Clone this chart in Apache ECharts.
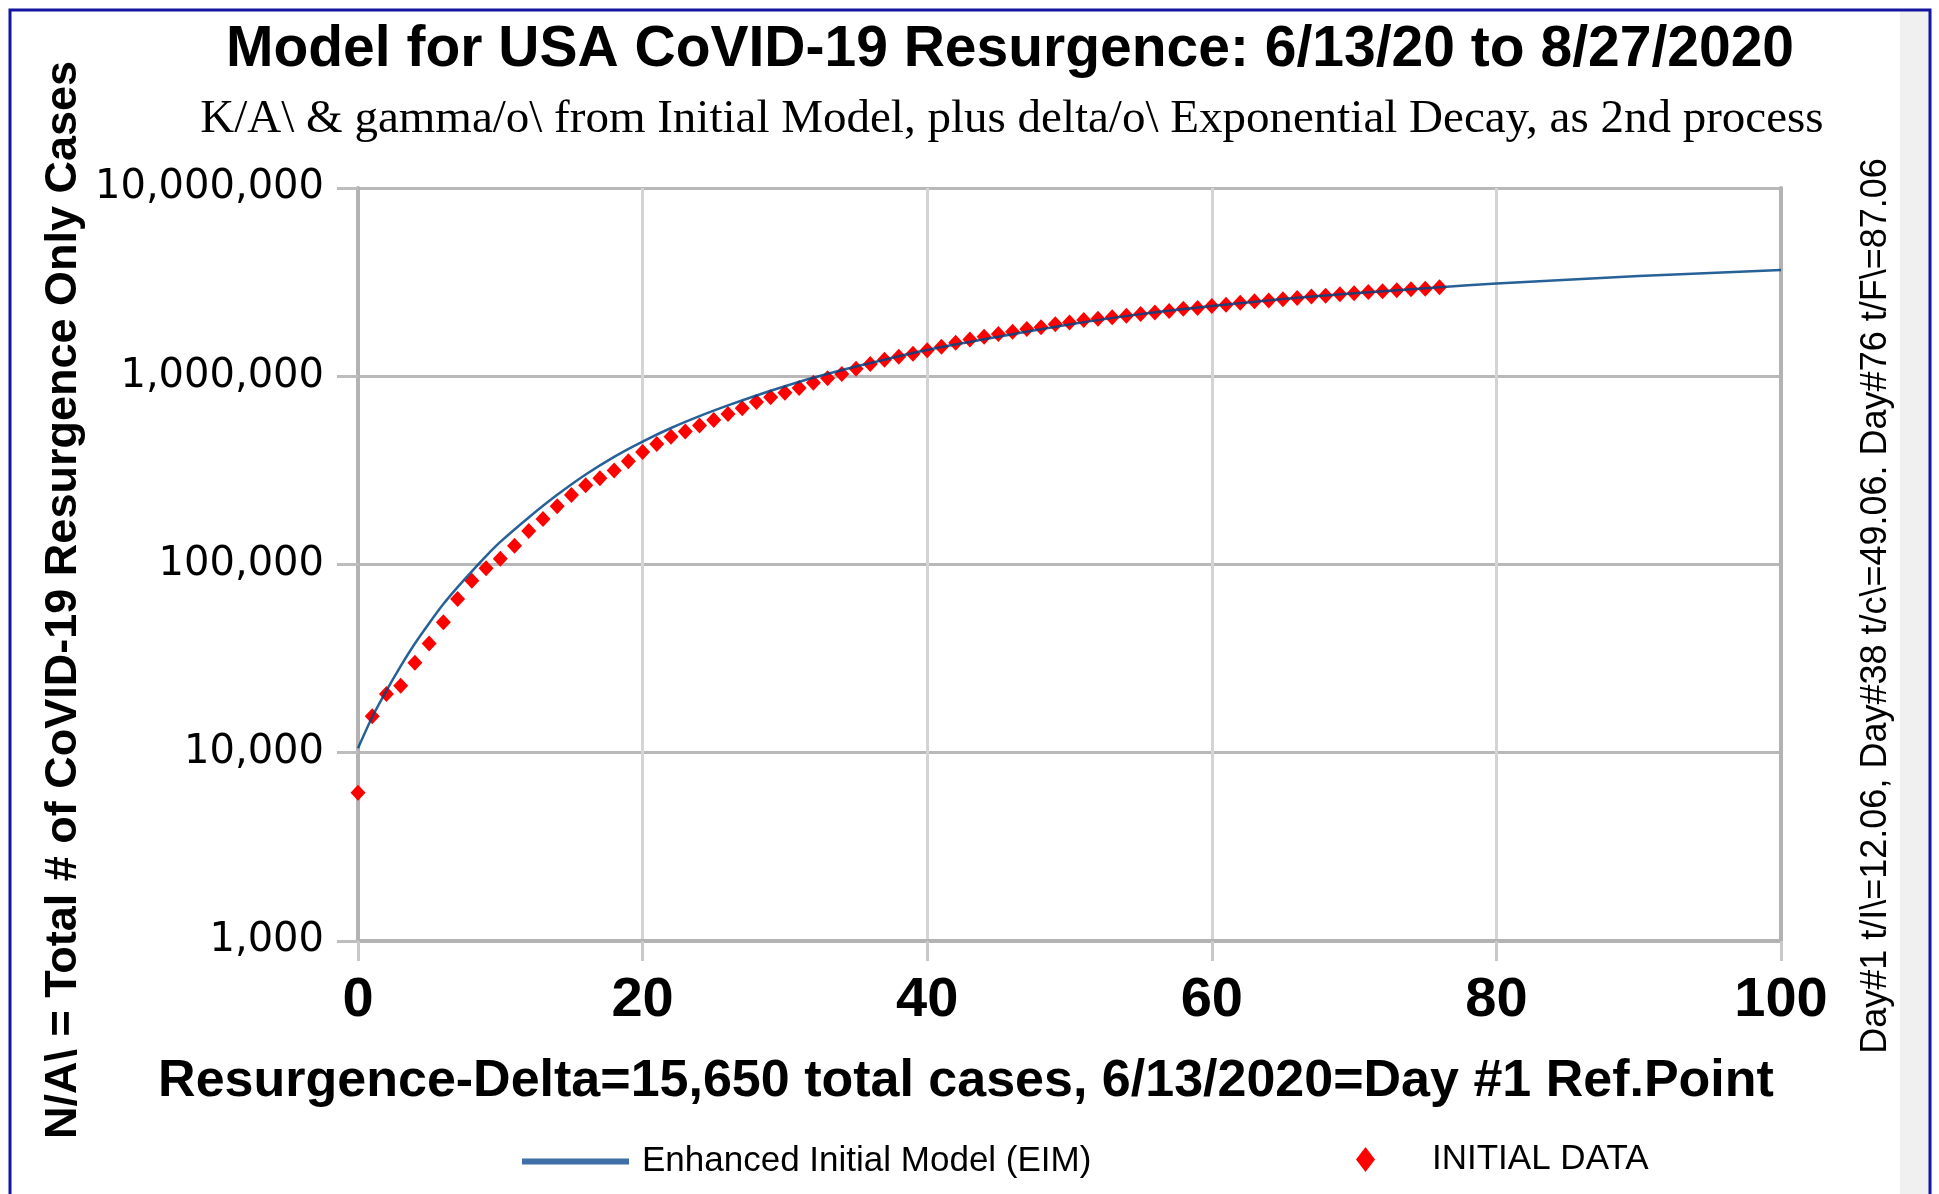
<!DOCTYPE html>
<html>
<head>
<meta charset="utf-8">
<script src="https://cdn.jsdelivr.net/npm/echarts@6/dist/echarts.min.js"></script>
<style>
html,body{margin:0;padding:0;background:#fff;}
#chart{width:1939px;height:1194px;}
</style>
</head>
<body>
<div id="chart"></div>
<script>
// ---- data ----
const titleText = 'Model for USA CoVID-19 Resurgence: 6/13/20 to 8/27/2020';
const subtitleText = 'K/A\\ & gamma/o\\ from Initial Model, plus delta/o\\ Exponential Decay, as 2nd process';
const xAxisTitle = 'Resurgence-Delta=15,650 total cases, 6/13/2020=Day #1 Ref.Point';
const yAxisTitle = 'N/A\\ = Total # of CoVID-19 Resurgence Only Cases';
const sideNote = 'Day#1 t/I\\=12.06, Day#38 t/c\\=49.06. Day#76 t/F\\=87.06';
const seriesNames = ['Enhanced Initial Model (EIM)', 'INITIAL DATA'];
const xTicks = [0, 20, 40, 60, 80, 100];
const yTicks = [1000, 10000, 100000, 1000000, 10000000];

// Enhanced Initial Model (EIM) curve: [day, cases]
const modelDays = [0, 1, 2, 3, 4, 5, 6, 7, 8, 9, 10, 12, 14, 16, 18, 20, 22, 24, 26, 28, 30, 32, 35, 40, 45, 50, 55, 60, 65, 70, 76, 80, 90, 100];
const modelCases = [10570, 15490, 21380, 28840, 38020, 48750, 61660, 75860, 92040, 110900, 131800, 177800, 234400, 300600, 373300, 449800, 530900, 613800, 699800, 790700, 885100, 982300, 1127000, 1380000, 1622000, 1884000, 2138000, 2360000, 2570000, 2761000, 2972000, 3105000, 3404000, 3673000];

// INITIAL DATA: day 0..76
const dataCases = [6140, 15650, 20500, 22700, 30060, 38100, 49400, 65500, 82000, 95500,
  107200, 125600, 150700, 174600, 204200, 233900, 263600, 287100, 315500, 353200,
  395400, 436500, 476400, 508200, 547000, 586100, 631000, 676100, 729400, 772700,
  818400, 867000, 924700, 975000, 1028000, 1096000, 1161000, 1222000, 1271000, 1318000,
  1374000, 1436000, 1507000, 1567000, 1622000, 1679000, 1722000, 1782000, 1820000, 1888000,
  1928000, 1991000, 2023000, 2056000, 2099000, 2143000, 2178000, 2223000, 2280000, 2307000,
  2360000, 2399000, 2460000, 2500000, 2523000, 2564000, 2606000, 2649000, 2679000, 2729000,
  2761000, 2805000, 2831000, 2864000, 2897000, 2917000, 2972000];

// ---- build ----
const modelData = modelDays.map((d, i) => [d, modelCases[i]]);
const pointData = dataCases.map((v, i) => [i, v]);

const chart = echarts.init(document.getElementById('chart'), null, {renderer: 'canvas'});
const fmt = v => Number(v).toLocaleString('en-US');

const option = {
  backgroundColor: '#ffffff',
  animation: false,
  grid: {left: 358, right: 158, top: 188, bottom: 253, containLabel: false},
  xAxis: {
    type: 'value', min: 0, max: 100, interval: 20,
    axisLine: {show: true, onZero: false, lineStyle: {color: '#b3b3b3', width: 4}},
    axisTick: {show: true, length: 20, lineStyle: {color: '#c8c8c8', width: 3}},
    splitLine: {show: true, lineStyle: {color: '#d4d4d4', width: 3}},
    axisLabel: {
      margin: 32, color: '#000',
      fontFamily: 'Liberation Sans', fontWeight: 'bold', fontSize: 56,
      formatter: v => xTicks.includes(v) ? String(v) : ''
    }
  },
  yAxis: [{
    type: 'log', logBase: 10, min: 1000, max: 10000000,
    axisLine: {show: true, lineStyle: {color: '#b3b3b3', width: 4}},
    axisTick: {show: true, length: 21, lineStyle: {color: '#bdbdbd', width: 3}},
    splitLine: {show: true, lineStyle: {color: '#b8b8b8', width: 3}},
    minorTick: {show: false},
    axisLabel: {
      margin: 34, color: '#000',
      fontFamily: 'DejaVu Sans', fontSize: 40,
      formatter: v => yTicks.includes(Math.round(v)) ? fmt(Math.round(v)) : ''
    }
  }, {
    type: 'log', logBase: 10, min: 1000, max: 10000000, position: 'right',
    axisLine: {show: true, lineStyle: {color: '#b3b3b3', width: 4}},
    axisTick: {show: false}, axisLabel: {show: false}, splitLine: {show: false}
  }],
  legend: [{
    show: true,
    left: 517, top: 1139,
    itemWidth: 107, itemHeight: 6, itemGap: 0,
    lineStyle: {width: 5, color: '#3f6fa6', opacity: 1},
    textStyle: {fontFamily: 'Liberation Sans', fontSize: 35, color: '#000', padding: [0, 0, 0, 8]},
    data: [{name: seriesNames[0], icon: 'rect', itemStyle: {color: '#3f6fa6'}}]
  }, {
    show: true,
    left: 1351, top: 1137,
    itemWidth: 19, itemHeight: 25, itemGap: 0,
    textStyle: {fontFamily: 'Liberation Sans', fontSize: 35, color: '#000', padding: [0, 0, 0, 52]},
    data: [{name: seriesNames[1], icon: 'diamond', itemStyle: {color: '#ff0000'}}]
  }],
  series: [
    {
      name: seriesNames[0], type: 'line', data: modelData,
      smooth: 0.25, symbol: 'none', z: 4,
      lineStyle: {color: '#004586', width: 2.5, opacity: 0.85},
      itemStyle: {color: '#004586'}
    },
    {
      name: seriesNames[1], type: 'scatter', data: pointData,
      symbol: 'diamond', symbolSize: [15, 16], z: 3,
      itemStyle: {color: '#ff0000', opacity: 1}
    }
  ],
  graphic: [
    {type: 'rect', z: -10, silent: true,
      shape: {x: 1900, y: 11, width: 30, height: 1200},
      style: {fill: '#f0f0f0'}},
    {type: 'rect', z: 100, silent: true,
      shape: {x: 10, y: 10, width: 1920, height: 1210},
      style: {fill: null, stroke: '#1414a0', lineWidth: 3}},
    {type: 'text', z: 50, x: 1010, y: 50,
      style: {text: titleText, font: 'bold 57px "Liberation Sans"', fill: '#000', textAlign: 'center', textVerticalAlign: 'middle'}},
    {type: 'text', z: 50, x: 1012, y: 120,
      style: {text: subtitleText, font: '47px "Liberation Serif"', fill: '#000', textAlign: 'center', textVerticalAlign: 'middle'}},
    {type: 'text', z: 50, x: 966, y: 1082,
      style: {text: xAxisTitle, font: 'bold 52px "Liberation Sans"', fill: '#000', textAlign: 'center', textVerticalAlign: 'middle'}},
    {type: 'text', z: 50, x: 64, y: 600, rotation: Math.PI / 2,
      style: {text: yAxisTitle, font: 'bold 45px "Liberation Sans"', fill: '#000', textAlign: 'center', textVerticalAlign: 'middle'}},
    {type: 'text', z: 50, x: 1876, y: 606, rotation: Math.PI / 2,
      style: {text: sideNote, font: '36px "Liberation Sans"', fill: '#000', textAlign: 'center', textVerticalAlign: 'middle'}}
  ]
};
chart.setOption(option);
</script>
</body>
</html>
